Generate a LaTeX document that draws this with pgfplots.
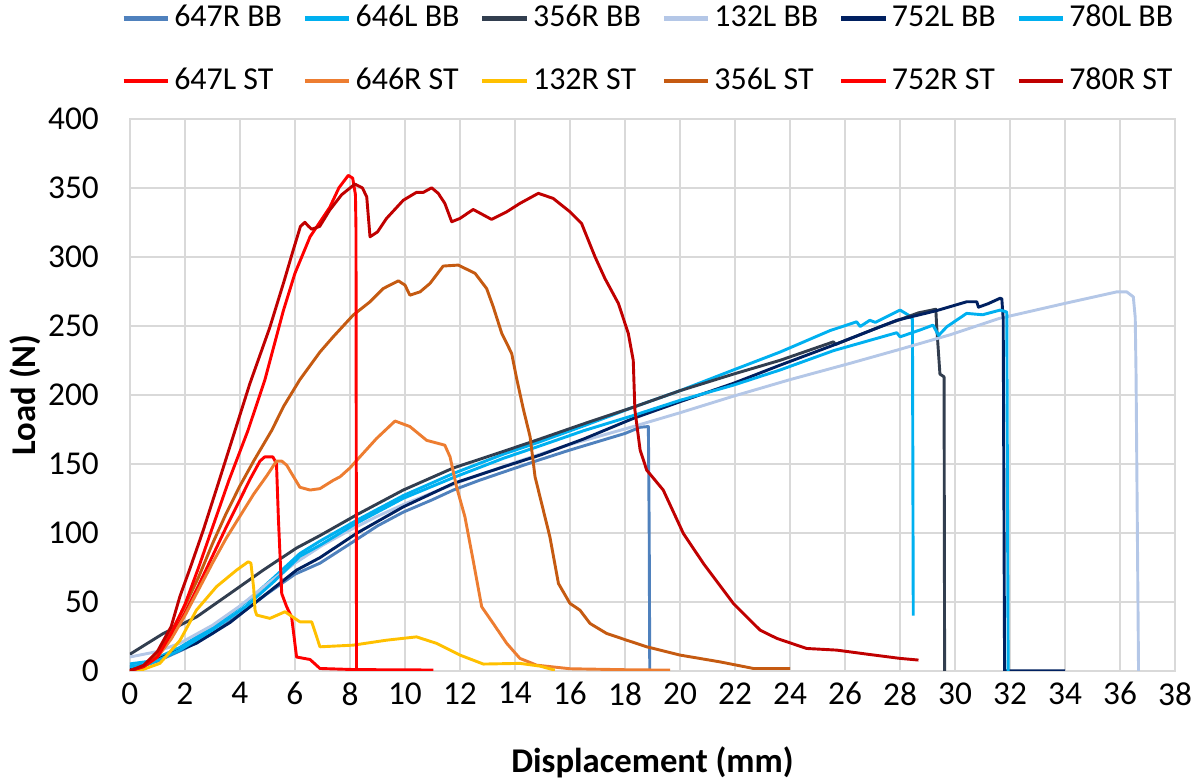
\documentclass[border=0pt]{standalone}
\usepackage{pgfplots}
\pgfplotsset{compat=1.18}
\usepackage{fontspec}
\setmainfont{Carlito}
\definecolor{gridgray}{HTML}{D9D9D9}
\definecolor{cSteel}{HTML}{4F81BD}
\definecolor{cCyan}{HTML}{00B0F0}
\definecolor{cDark}{HTML}{323E4F}
\definecolor{cLight}{HTML}{B4C7E7}
\definecolor{cNavy}{HTML}{002060}
\definecolor{cRed}{HTML}{FF0000}
\definecolor{cOrange}{HTML}{ED7D31}
\definecolor{cYellow}{HTML}{FFC000}
\definecolor{cBrown}{HTML}{C55A11}
\definecolor{cDarkRed}{HTML}{C00000}
\begin{document}
\fontsize{12}{14}\selectfont
\begin{tikzpicture}
\path[use as bounding box] (-46.8pt,-39pt) rectangle (385.2pt,241.7pt);
\begin{axis}[
 at={(0,0)}, anchor=south west,
 scale only axis, width=376.6pt, height=198.9pt,
 xmin=0, xmax=38, ymin=0, ymax=400,
 xtick={0,2,...,38}, ytick={0,50,...,400},
 grid=major, grid style={draw=gridgray, line width=0.55pt},
 axis line style={draw=gridgray, line width=0.55pt},
 major tick length=0pt,
 /pgf/number format/assume math mode=true,
 tick label style={font=\fontsize{12}{14}\selectfont},
 yticklabel style={xshift=-7pt},
 xlabel={Displacement (mm)}, ylabel={Load (N)},
 every axis x label/.style={at={(axis description cs:0.5,-0.166)}, anchor=center, font=\fontsize{12.5}{15}\selectfont\bfseries},
 every axis y label/.style={at={(axis description cs:-0.1004,0.5)}, rotate=90, anchor=center, font=\fontsize{12.5}{15}\selectfont\bfseries},
 legend columns=6,
 legend cell align=left,
 legend style={draw=none, fill=none, at={(-0.0085,1.217)}, anchor=north west, inner sep=0pt,
   font=\fontsize{11.5}{13}\selectfont, row sep=9pt,
   nodes={inner xsep=1.5pt},
   /tikz/every even column/.append style={column sep=6pt}},
 legend image code/.code={\draw[#1, line width=1.5pt] (0pt,0pt)--(16pt,0pt);},
 every axis plot/.append style={line width=1.05pt, line join=round, mark=none},
]
\addplot[cSteel] coordinates {(0,3) (0.5,4) (1,7) (2,16) (3,27) (4,41) (5,56) (6,70) (6.91,78) (8,92) (9,105) (9.94,115) (11,124) (11.76,131) (12.7,138) (13.58,144) (14.91,153) (16,160) (17,166) (18,172) (18.55,176.5) (18.85,177) (18.88,100) (18.9,0)};
\addlegendentry{647R BB}
\addplot[cCyan] coordinates {(0,5) (0.73,7) (1.82,17) (3.03,32) (4.24,50) (5.2,67) (6.18,85) (6.91,94) (8.24,109) (9.94,127) (11.76,143) (13.58,157) (14.91,166) (16.5,177.5) (18.3,191) (20,203) (21.94,218) (23.64,231) (25.45,246.5) (26.42,252.9) (26.55,249.5) (26.9,254) (27.1,252.5) (28,261.4) (28.3,257.8) (28.45,255) (28.48,40)};
\addlegendentry{646L BB}
\addplot[cDark] coordinates {(0,12) (1.21,27) (2.42,39) (3.64,56) (4.85,73) (6.06,89) (6.91,98) (8.24,113) (9.94,131) (11.76,147) (13.58,159) (14.91,168) (16.5,179) (18.3,191) (20,203) (21.94,215) (23.64,225) (25.58,238.4) (25.65,236.5) (27.27,249.3) (28.67,259.4) (29.3,262) (29.33,250) (29.45,215) (29.6,213) (29.62,0)};
\addlegendentry{356R BB}
\addplot[cLight] coordinates {(0,10) (1,14) (1.82,20) (3,33) (4,47) (5,63) (6,78) (7,91) (8,102) (9,112) (10,121) (12,137) (14,151) (16,164) (18.3,177) (20,187) (21.94,199) (24,211) (26.18,222.8) (28,233) (29.82,243.5) (31.6,255.3) (33.94,266) (35.88,274.6) (36.24,274.6) (36.48,271) (36.55,256) (36.58,214) (36.67,0)};
\addlegendentry{132L BB}
\addplot[cNavy] coordinates {(0,1) (0.36,2.4) (1.21,10) (2.42,20) (3.64,35) (4.85,54) (6.06,73) (6.91,82) (8.24,99.6) (9.94,118.8) (11.76,135.8) (13.58,147.8) (14.91,156.3) (16.5,168) (18.3,182.9) (20,195) (21.94,208.3) (23.64,221.5) (25.58,236) (27.88,254) (29.33,261) (30.42,267.4) (30.79,267.4) (30.85,263.5) (31.2,266) (31.64,270) (31.7,269.5) (31.75,255) (31.8,0) (34.0,0)};
\addlegendentry{752L BB}
\addplot[cCyan] coordinates {(0,3) (0.73,5) (1.82,15) (3.03,30) (4.24,47) (5.2,64) (6.18,83) (6.91,91) (8.24,107) (9.94,125) (11.76,140) (13.58,154) (14.91,163) (16.5,174) (18.3,185) (20,196) (21.94,207) (23.64,218) (25.58,232) (27.88,245) (28.0,242) (28.73,247) (29.2,250.5) (29.4,243) (29.7,249.3) (30.42,259) (31.0,258) (31.64,261.4) (31.88,260) (31.93,0)};
\addlegendentry{780L BB}
\addplot[cRed] coordinates {(0,0) (0.5,3) (1,10) (1.5,24) (2,42) (2.5,62) (3,83) (3.5,104) (4,124) (4.4,140) (4.73,152) (4.9,155) (5.2,155) (5.33,150) (5.4,110) (5.52,56) (5.7,46.4) (5.88,39) (6.06,10) (6.55,8.2) (6.91,1.7) (8,1) (9,0.8) (10,0.8) (11.03,0.5)};
\addlegendentry{647L ST}
\addplot[cOrange] coordinates {(0,0) (0.5,3) (1,10) (1.5,23) (2,40) (2.5,59) (3,78) (3.5,96) (4,112) (4.5,128) (5,142) (5.33,152) (5.52,152) (5.7,149) (6.18,133) (6.55,131) (6.91,132) (7.39,138) (7.64,140.6) (8.0,147) (8.36,155) (8.97,168.4) (9.64,181) (10.18,177) (10.79,167) (11.45,163.5) (11.64,155) (11.88,133) (12.18,111.6) (12.48,80) (12.79,46.4) (13.21,34.3) (13.7,19.9) (14.18,9) (14.79,4.1) (16,1.5) (18,0.8) (19.64,0.5)};
\addlegendentry{646R ST}
\addplot[cYellow] coordinates {(0.2,0) (0.48,1) (1.09,5.4) (1.82,22) (2.42,44) (3.15,61) (3.88,73) (4.3,79) (4.4,78) (4.5,60) (4.55,44) (4.61,40.4) (5.09,38) (5.64,42.8) (6.18,35.5) (6.61,35.5) (6.91,17.4) (8.12,18.6) (9.33,22.2) (10.42,24.6) (11.15,19.9) (12,11.4) (12.85,4.9) (14.18,5.4) (14.91,3.4) (15.45,0.5)};
\addlegendentry{132R ST}
\addplot[cBrown] coordinates {(0,0) (0.5,3) (1,12) (1.5,28) (2,47) (2.5,68) (3,92) (3.5,114) (4,134) (4.5,152) (5.15,174) (5.6,192) (6.18,211) (6.91,231) (7.39,242) (8.12,257.8) (8.73,267.4) (9.21,277) (9.76,282.6) (10.0,279.5) (10.18,272.2) (10.55,274.6) (10.91,280.7) (11.39,293.3) (11.94,294) (12.55,288) (12.97,277) (13.21,263.8) (13.52,244.5) (13.88,230) (14.06,211.9) (14.3,190) (14.55,169.6) (14.73,140.6) (15.27,97) (15.58,63.3) (16.0,48.8) (16.36,44) (16.73,34.3) (17.33,27.1) (18.06,22.2) (18.79,17.4) (20.0,11.4) (21.45,6.5) (22.67,1.7) (24.0,1.7)};
\addlegendentry{356L ST}
\addplot[cRed] coordinates {(0,0) (0.5,3) (1,10) (1.5,27) (2,48) (2.5,75) (2.97,102) (3.6,138) (4.29,174) (4.91,211) (5.58,261) (6.0,288) (6.55,314.5) (7.27,336) (7.6,350) (7.94,359) (8.1,357) (8.2,345) (8.22,320) (8.24,0)};
\addlegendentry{752R ST}
\addplot[cDarkRed] coordinates {(0,0) (0.5,4) (1,14) (1.5,32) (1.82,54) (2.2,75) (2.67,102) (3.2,135) (3.82,174) (4.36,208) (5.09,249) (5.6,282) (5.94,305) (6.2,322) (6.36,325) (6.5,322) (6.61,320) (6.9,322) (7.27,334) (7.7,345) (8.18,352.7) (8.45,350) (8.61,343.5) (8.73,314.5) (9.0,318) (9.33,327.8) (9.94,341) (10.42,346.7) (10.67,346.7) (10.97,350) (11.21,346) (11.45,338.7) (11.70,325.4) (12.0,327.8) (12.48,334.3) (13.15,327.1) (13.7,332.6) (14.18,338.7) (14.85,346) (15.39,342.3) (16.0,332.6) (16.42,324.2) (16.91,300) (17.27,284.3) (17.76,266.2) (18.12,244.5) (18.30,225) (18.36,189) (18.55,160) (18.79,145.4) (19.39,131) (20.12,99.6) (20.85,77.8) (21.94,48.8) (22.91,29.5) (23.52,23.5) (24.6,16.2) (25.7,15) (26.79,12.1) (28.0,9) (28.67,7.8)};
\addlegendentry{780R ST}
\end{axis}
\end{tikzpicture}
\end{document}
